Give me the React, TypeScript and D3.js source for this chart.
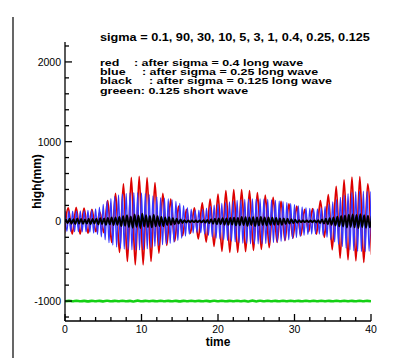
import React from 'react';
import * as d3 from 'd3';

const W = 410;
const H = 358;

// axes
const xDomain: [number, number] = [0, 40];
const yDomain: [number, number] = [-1250, 2250];
const xMajorTicks = [0, 10, 20, 30, 40];
const yMajorTicks = [-1000, 0, 1000, 2000];
const xMinorStep = 2;
const yMinorStep = 200;

// texts
const titleText = 'sigma = 0.1, 90, 30, 10, 5, 3, 1, 0.4, 0.25, 0.125';
const legendNames = ['red', 'blue', 'black'];
const legendRest = [': after sigma = 0.4 long wave', ': after sigma = 0.25 long wave', ': after sigma = 0.125 long wave'];
const legendGreen = 'greeen: 0.125 short wave';
const xTitle = 'time';
const yTitle = 'high(mm)';

// red: long wave (sigma 0.4) successive extrema (trough/peak), first at t = -0.085, every 0.515 s
const redStart = -0.085;
const redStep = 0.515;
const redExtrema = [
  -150, 170, -160, 175, -160, 165, -150, 150, -130, 120,
  -140, 260, -264, 350, -390, 470, -503, 550, -545, 565,
  -545, 548, -503, 485, -398, 350, -300, 280, -250, 190,
  -180, 150, -150, 170, -220, 230, -260, 280, -314, 340,
  -377, 385, -390, 398, -390, 398, -380, 385, -365, 360,
  -350, 330, -330, 300, -264, 250, -240, 220, -210, 190,
  -180, 150, -130, 160, -160, 260, -200, 335, -356, 440,
  -461, 520, -482, 555, -495, 560, -515, 470, -420,
];

// blue: long wave (sigma 0.25) extrema every 0.25 s from t = 0
const blueStep = 0.25;
const blueExtrema = [
  128, -126, 130, -128, 127, -130, 132, -129, 131, -133,
  134, -132, 136, -138, 142, -148, 155, -165, 178, -195,
  212, -232, 252, -268, 285, -298, 312, -322, 332, -338,
  344, -348, 351, -354, 356, -357, 359, -360, 360, -358,
  357, -355, 350, -344, 336, -328, 320, -314, 308, -303,
  298, -294, 290, -285, 281, -276, 270, -262, 250, -238,
  224, -210, 196, -184, 172, -162, 154, -147, 142, -140,
  141, -145, 150, -158, 167, -177, 187, -196, 204, -210,
  215, -220, 225, -230, 235, -240, 244, -249, 254, -258,
  262, -266, 270, -273, 276, -278, 280, -281, 282, -282,
  282, -281, 281, -280, 279, -277, 275, -272, 269, -266,
  262, -258, 254, -250, 246, -241, 236, -230, 223, -216,
  209, -202, 195, -188, 182, -176, 171, -167, 163, -160,
  157, -156, 157, -161, 168, -177, 188, -200, 214, -228,
  243, -258, 273, -288, 302, -315, 327, -338, 348, -356,
  363, -368, 372, -375, 377, -378, 378, -377, 376, -375,
  373,
];

// black: long wave (sigma 0.125) extrema every 0.25 s from t = 0.1
const blackStart = 0.1;
const blackStep = 0.25;
const blackExtrema = [
  28, -24, 32, -30, 26, -34, 36, -28, 30, -32, 24, -29, 34, -36, 30, -26, 32, -38, 40, -34, 36,
  -42, 44, -38, 48, -46, 50, -44, 56,
  -60, 66, -56, 76, -70, 62, -80, 88, -68, 74, -84, 96, -64, 78, -72, 68, -76, 82, -62, 64,
  -58, 54, -60, 50, -46, 52, -44, 40,
  -36, 32, -28, 24,
  -20, 16, -14, 12, -11, 10, -10, 11, -10, 12, -13, 14, -16, 19, -22, 26,
  -30, 34, -36, 38, -35, 40, -42, 38, -44, 42, -40, 46,
  -50, 44, -48, 54, -46, 52, -56, 50, -46, 53, -58, 48, -51, 56, -46, 50, -53, 48, -44, 46,
  -42, 44, -40, 38, -42, 36, -34, 32, -29, 26, -24, 21,
  -18, 14, -12, 11, -10, 10, -10, 10, -11, 12, -14, 16,
  -21, 24, -28, 32, -36, 40, -44, 48,
  -52, 58, -62, 68, -64, 74, -78, 84, -70, 88, -76, 80, -84, 90, -72, 78, -80, 70, -76, 68,
];

// green: short wave (sigma 0.125), plotted around -1000, every 0.5 s
const greenStep = 0.5;
const greenValues = [
  -1003, -998, -1002, -997, -1003, -998, -1004, -997, -1002, -998,
  -1004, -996, -1003, -998, -1002, -997, -1003, -998, -1005, -995,
  -1003, -998, -1002, -998, -1003, -997, -1002, -998, -1003, -997,
  -1004, -997, -1002, -998, -1002, -998, -1003, -997, -1004, -996,
  -1003, -997, -1003, -998, -1002, -997, -1002, -998, -1005, -995,
  -1005, -996, -1003, -997, -1002, -998, -1003, -997, -1002, -998,
  -1002, -998, -1003, -997, -1003, -997, -1002, -998, -1002, -998,
  -1003, -997, -1002, -998, -1002, -998, -1003, -997, -1002, -998,
  -1002,
];

const FONT = "'Liberation Sans', Arial, Helvetica, sans-serif";

export default function App() {
  const left = 65, right = 371, top = 42, bottom = 321;
  const x = d3.scaleLinear().domain(xDomain).range([left, right]);
  const y = d3.scaleLinear().domain(yDomain).range([bottom, top]);

  const line = d3
    .line<[number, number]>()
    .x((d) => x(d[0]))
    .y((d) => y(d[1]))
    .curve(d3.curveMonotoneX);

  const toPts = (vals: number[], start: number, step: number): [number, number][] =>
    vals.map((v, i) => [start + i * step, v]);

  const redPath = line(toPts(redExtrema, redStart, redStep)) || '';
  const bluePath = line(toPts(blueExtrema, 0, blueStep)) || '';
  const blackPath = line(toPts(blackExtrema, blackStart, blackStep)) || '';
  const greenPath = line(toPts(greenValues, 0, greenStep)) || '';

  const xMinor = d3.range(xDomain[0], xDomain[1] + 0.001, xMinorStep).filter((t) => !xMajorTicks.includes(t));
  const yMinor = d3.range(-1200, yDomain[1] + 0.001, yMinorStep).filter((t) => !yMajorTicks.includes(t));

  const sxTitle = 1.27;
  const legendFont = 8.3;
  const sx = 1.5;
  const colonX = [134, 142, 149];
  const legendY = [65.8, 75.1, 84.4, 93.7];

  return (
    <svg width={W} height={H} style={{ position: 'absolute', left: 0, top: 0, background: '#fff' }} fontFamily={FONT}>
      <rect x={0} y={0} width={W} height={H} fill="#fff" />
      <line x1={13} x2={13} y1={17} y2={H} stroke="#000" strokeWidth={1.2} />
      <defs>
        <clipPath id="plotclip">
          <rect x={left} y={top} width={right - left} height={bottom - top} />
        </clipPath>
      </defs>
      <g clipPath="url(#plotclip)" fill="none" strokeLinejoin="round">
        <path d={greenPath} stroke="#14d014" strokeWidth={2.6} />
        <path d={redPath} stroke="#dd0000" strokeWidth={1.8} />
        <path d={bluePath} stroke="#3535ff" strokeWidth={1.3} />
        <path d={blackPath} stroke="#000" strokeWidth={1.9} />
      </g>
      {/* axes */}
      <g stroke="#000" strokeWidth={1.3}>
        <line x1={left} x2={left} y1={top} y2={bottom} />
        <line x1={left} x2={right} y1={bottom} y2={bottom} />
        {xMajorTicks.map((t) => (
          <line key={'xM' + t} x1={x(t)} x2={x(t)} y1={bottom} y2={bottom - 7} />
        ))}
        {xMinor.map((t) => (
          <line key={'xm' + t} x1={x(t)} x2={x(t)} y1={bottom} y2={bottom - 4} />
        ))}
        {yMajorTicks.map((t) => (
          <line key={'yM' + t} x1={left} x2={left + 7} y1={y(t)} y2={y(t)} />
        ))}
        {yMinor.map((t) => (
          <line key={'ym' + t} x1={left} x2={left + 4} y1={y(t)} y2={y(t)} />
        ))}
      </g>
      <g fontSize={10.5} fill="#000">
        {xMajorTicks.map((t) => (
          <text key={'xl' + t} x={x(t)} y={333} textAnchor="middle">
            {t}
          </text>
        ))}
        {yMajorTicks.map((t) => (
          <text key={'yl' + t} x={61} y={y(t) + 4} textAnchor="end">
            {t}
          </text>
        ))}
      </g>
      <text x={(left + right) / 2} y={346} textAnchor="middle" fontSize={12} fontWeight="bold">
        {xTitle}
      </text>
      <text
        transform={`translate(41, ${(top + bottom) / 2}) rotate(-90)`}
        textAnchor="middle"
        fontSize={12}
        fontWeight="bold"
      >
        {yTitle}
      </text>
      <g fontWeight="bold" fill="#000">
        <text fontSize={10} transform={`translate(100, 41) scale(${sxTitle}, 1)`}>{titleText}</text>
        {legendNames.map((n, i) => (
          <g key={n} fontSize={legendFont}>
            <text transform={`translate(100, ${legendY[i]}) scale(${sx}, 1)`}>{n}</text>
            <text transform={`translate(${colonX[i]}, ${legendY[i]}) scale(${sx}, 1)`}>{legendRest[i]}</text>
          </g>
        ))}
        <text fontSize={legendFont} transform={`translate(100, ${legendY[3]}) scale(${sx}, 1)`}>{legendGreen}</text>
      </g>
    </svg>
  );
}
